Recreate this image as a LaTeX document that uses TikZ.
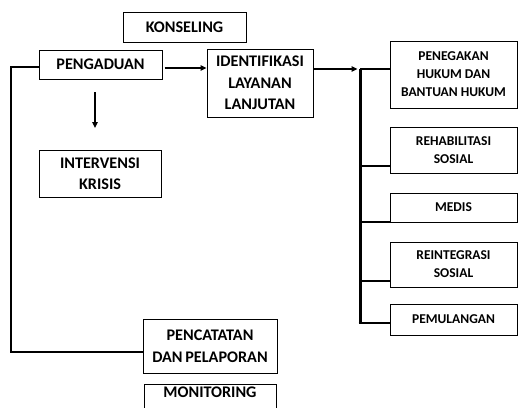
\documentclass[tikz,border=0pt]{standalone}
\usepackage{fontspec}
\setmainfont{Carlito}
\usetikzlibrary{arrows.meta}
\begin{document}
\begin{tikzpicture}[x=1pt,y=-1pt,
  box/.style={draw, line width=1pt, inner sep=0pt, align=center, font=\bfseries\fontsize{16.2}{21.5}\selectfont},
  rbox/.style={box, minimum width=127pt, font=\bfseries\fontsize{13.5}{18}\selectfont},
  line/.style={line width=1.3pt},
  arr/.style={line width=1.4pt, -{Triangle[length=6pt,width=5.5pt]}},
  bus/.style={line width=3pt}]
\clip (0,0) rectangle (518,407);
\useasboundingbox (0,0) rectangle (518,407);
% left column
\node[box, minimum width=123pt, minimum height=30pt] (kons) at (184.5,27) {KONSELING};
\node[box, minimum width=123pt, minimum height=29pt] (peng) at (100.5,64.5) {PENGADUAN};
\node[box, minimum width=106pt, minimum height=68pt] (iden) at (260,83) {IDENTIFIKASI\\LAYANAN\\LANJUTAN};
\node[box, minimum width=122pt, minimum height=47pt] (inter) at (100,173.5) {INTERVENSI\\KRISIS};
\node[box, minimum width=134pt, minimum height=54pt] (penc) at (210,346) {PENCATATAN\\DAN\,PELAPORAN};
\node[box, minimum width=132pt, minimum height=40pt, anchor=north, text depth=24pt] (moni) at (210,384) {MONITORING};
% right column
\node[rbox, minimum height=67pt] (pene) at (453.5,74.5) {PENEGAKAN\\HUKUM DAN\\BANTUAN HUKUM};
\node[rbox, minimum height=46pt] (reha) at (453.5,150) {REHABILITASI\\SOSIAL};
\node[rbox, minimum height=29pt] (medi) at (453.5,207.5) {MEDIS};
\node[rbox, minimum height=45pt] (rein) at (453.5,264.5) {REINTEGRASI\\SOSIAL};
\node[rbox, minimum height=31pt] (pemu) at (453.5,319.5) {PEMULANGAN};
% coordinates
\coordinate (b1) at (360,69);
\coordinate (b2) at (360,323);
\coordinate (dtop) at (95,92);
\coordinate (dbot) at (95,128);
\coordinate (lc) at (11,67);
% connectors
\draw[arr] (peng.east |- 0,68) ++(2,0) -- (iden.west |- 0,68);
\draw[arr] (dtop) -- (dbot);
\draw[arr] (iden.east |- 0,69) -- (357.5,69);
\draw[bus] (b1) -- (b2);
\draw[line] (peng.west |- lc) -- (lc) -- (11,352) -- (penc.west |- 0,352);
\draw[line] (360,69) -- (pene.west |- 0,69);
\draw[line] (360,166) -- (reha.west |- 0,166);
\draw[line] (360,222) -- (medi.west |- 0,222);
\draw[line] (360,281) -- (rein.west |- 0,281);
\draw[line] (b2) ++(-1.5,0) -- (pemu.west |- 0,323);
\end{tikzpicture}
\end{document}
